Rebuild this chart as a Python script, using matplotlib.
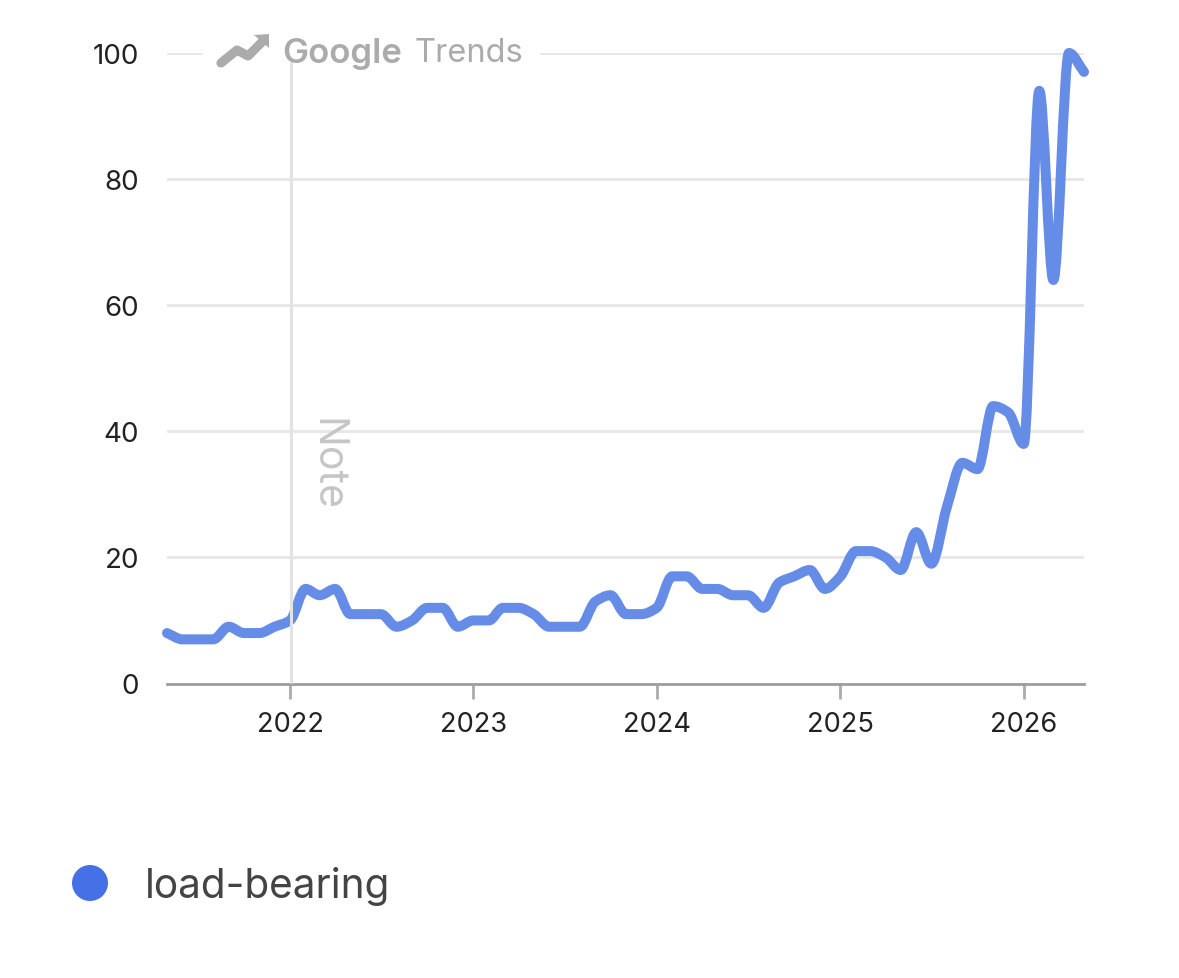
import matplotlib.dates as mdates
import matplotlib.pyplot as plt
import numpy as np
import pandas as pd
from matplotlib.patches import Circle, PathPatch, Polygon, Rectangle
from matplotlib.path import Path

months = pd.date_range("2021-05-01", "2026-05-01", freq="MS")
interest = [
    8, 7, 7, 7, 9, 8, 8, 9,
    10, 15, 14, 15, 11, 11, 11, 9, 10, 12, 12, 9, 10, 10, 12, 12,
    11, 9, 9, 9, 13, 14, 11, 11,
    12, 17, 17, 15, 15, 14, 14, 12, 16, 17, 18, 15,
    17, 21, 21, 20, 18, 24, 19, 28, 35, 34, 44, 43,
    38, 94, 64, 100, 97,
]
y_ticks = [0, 20, 40, 60, 80, 100]
year_ticks = [2022, 2023, 2024, 2025, 2026]
series_name = "load-bearing"

LINE = "#658CE6"
GRID = "#E8E8E8"
W, H = 1179, 979


def monotone_path(x, y):
    # monotone cubic through the points, written out as bezier segments
    dx = np.diff(x)
    slope = np.diff(y) / dx
    tang = np.zeros(len(x))
    tang[0], tang[-1] = slope[0], slope[-1]
    for i in range(1, len(x) - 1):
        if slope[i - 1] * slope[i] > 0:
            w1 = 2 * dx[i] + dx[i - 1]
            w2 = dx[i] + 2 * dx[i - 1]
            tang[i] = (w1 + w2) / (w1 / slope[i - 1] + w2 / slope[i])
    verts = [(x[0], y[0])]
    codes = [Path.MOVETO]
    for i in range(len(dx)):
        verts.append((x[i] + dx[i] / 3, y[i] + tang[i] * dx[i] / 3))
        verts.append((x[i + 1] - dx[i] / 3, y[i + 1] - tang[i + 1] * dx[i] / 3))
        verts.append((x[i + 1], y[i + 1]))
        codes += [Path.CURVE4] * 3
    return Path(verts, codes)


plt.rcParams["font.family"] = ["Inter", "DejaVu Sans"]
fig = plt.figure(figsize=(W / 100, H / 100), dpi=100)
ax = fig.add_axes([167 / W, 1 - 684.5 / H, (1084 - 167) / W, (684.5 - 54) / H])

x = mdates.date2num(months)
ax.set_xlim(x[0], x[-1])
ax.set_ylim(0, 100)
for s in ["top", "left", "right"]:
    ax.spines[s].set_visible(False)
ax.spines["bottom"].set_color("#9E9E9E")
ax.spines["bottom"].set_linewidth(2)

ax.set_yticks(y_ticks)
ax.tick_params(axis="y", length=0, pad=20, labelsize=20, labelcolor="#222222")
ax.set_xticks([mdates.date2num(pd.Timestamp(year=yr, month=1, day=1)) for yr in year_ticks])
ax.set_xticklabels([str(yr) for yr in year_ticks])
ax.tick_params(axis="x", length=11, width=2, color="#ABABAB", pad=9,
               labelsize=19.6, labelcolor="#222222")
ax.grid(axis="y", color=GRID, lw=2.2)
ax.set_axisbelow(True)

ax.add_patch(PathPatch(monotone_path(x, np.array(interest, dtype=float)), fc="none",
                       ec=LINE, lw=7.2, capstyle="round", joinstyle="round",
                       clip_on=False, zorder=4))

# overlay in pixel units for the logo, note and legend
ov = fig.add_axes([0, 0, 1, 1], zorder=5)
ov.set_xlim(0, W)
ov.set_ylim(H, 0)
ov.axis("off")

ov.add_patch(Rectangle((203, 40), 337, 22, fc="white", ec="none", zorder=1))
ov.plot([291, 291], [60, 684], color="#E3E3E3", lw=2.2, zorder=2, solid_capstyle="butt")

# trend arrow logo
ov.plot([221, 237, 248, 263], [64, 51, 57, 42], color="#ABABAB", lw=6.6,
        solid_capstyle="round", solid_joinstyle="round", zorder=3)
ov.add_patch(Polygon([(254, 36), (269, 35), (269, 49)], fc="#ABABAB", ec="none", zorder=3))
ov.text(282, 54, "Google", fontsize=25, fontweight="semibold", color="#ABABAB",
        va="center", ha="left", zorder=3)
ov.text(414, 54, "Trends", fontsize=23.5, color="#ABABAB", va="center", ha="left", zorder=3)
ov.text(326, 465, "Note", fontsize=29.5, color="#C6C6C6", rotation=-90,
        va="center", ha="center", zorder=3)

ov.add_patch(Circle((90, 884), 18, fc="#4570E6", ec="none"))
ov.text(145, 887, series_name, fontsize=29.2, color="#444444", va="center", ha="left")

fig.savefig("out.png", dpi=100, facecolor="white")
